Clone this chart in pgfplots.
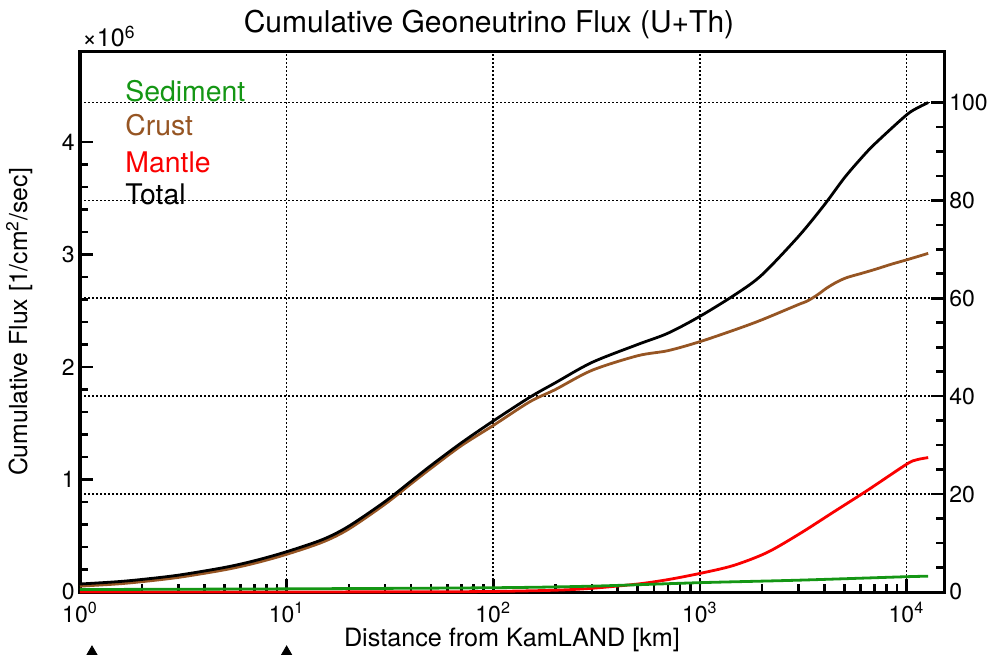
\documentclass[border=0pt]{standalone}
\usepackage{fontspec}
\setmainfont{TeX Gyre Heros}
\usepackage{pgfplots}
\pgfplotsset{compat=1.18}
\definecolor{sedgreen}{RGB}{20,150,20}
\definecolor{crustbrown}{RGB}{150,85,35}
\definecolor{mantlered}{RGB}{250,0,0}

\begin{document}
\begin{tikzpicture}
\pgfplotsset{
  every axis/.append style={
    scale only axis, width=432pt, height=270pt,
    xmode=log, xmin=1, xmax=15200,
    axis line style={line width=1.5pt},
    major tick length=6.5pt, minor tick length=4pt,
    every tick/.style={line width=1.3pt, black},
    grid style={black, line width=0.8pt, dash pattern=on 1pt off 1pt},
    tick label style={font=\fontsize{11.5}{13}\selectfont},
    /pgf/number format/assume math mode=true,
  }
}
% right axis (percent) with horizontal grid
\begin{axis}[
  ymin=0, ymax=110.3,
  xtick=\empty, minor xtick={},
  ytick={0,20,40,60,80,100}, minor y tick num=3,
  yticklabels={0,20,40,60,80,100},
  ytick pos=right, yticklabel pos=right,
  yticklabel style={inner xsep=0pt, xshift=2.5pt},
  ymajorgrids,
]
\end{axis}
% main axis
\begin{axis}[
  name=main,
  clip=false,
  ymin=0, ymax=4.8,
  ytick={0,1,2,3,4}, yticklabels={0,1,2,3,4},
  minor y tick num=4,
  ytick pos=left,
  yticklabel style={inner xsep=0pt, xshift=-2.5pt},
  xtick={1,10,100,1000,10000},
  xticklabels={10\textsuperscript{0},10\textsuperscript{1},10\textsuperscript{2},10\textsuperscript{3},10\textsuperscript{4}},
  xtick pos=bottom,
  xticklabel style={inner ysep=0pt, yshift=-5pt},
  xmajorgrids,
  title={Cumulative Geoneutrino Flux (U+Th)},
  every axis title/.style={font=\fontsize{15}{18}\selectfont, at={(axis description cs:0.4734,1.0352)}, anchor=base},
  xlabel={Distance from KamLAND [km]},
  xlabel style={font=\fontsize{12.6}{15}\selectfont, at={(axis description cs:0.5,-0.1)}, anchor=base},
  ylabel={Cumulative Flux [1/cm\textsuperscript{2}/sec]},
  ylabel style={font=\fontsize{12.4}{15}\selectfont, at={(axis description cs:-0.0613,0.5)}, anchor=base},
]
\addplot[crustbrown, line width=1.4pt, smooth] table {
x y
1 0.052
1.5 0.071
2 0.092
3 0.130
5 0.197
7 0.256
10 0.335
15 0.445
20 0.560
30 0.782
40 0.962
50 1.10
70 1.30
100 1.48
150 1.69
200 1.80
300 1.97
500 2.10
700 2.145
1000 2.225
1500 2.335
2000 2.42
3000 2.555
3300 2.585
3700 2.64
4100 2.70
4600 2.755
5150 2.795
6000 2.83
7000 2.866
8500 2.915
10000 2.952
12742 3.01
};
\addplot[mantlered, line width=1.4pt, smooth] table {
x y
1 0.0
10 0.0005
50 0.002
100 0.005
200 0.016
300 0.033
500 0.071
700 0.11
1000 0.165
1450 0.235
2110 0.35
3055 0.52
4430 0.71
6430 0.90
10000 1.135
11200 1.175
12742 1.195
};
\addplot[sedgreen, line width=1.4pt, smooth] table {
x y
1 0.022
10 0.028
100 0.038
300 0.052
1000 0.083
3000 0.105
10000 0.136
12742 0.14
};
\addplot[black, line width=1.4pt, smooth] table {
x y
1 0.071
1.5 0.091
2 0.112
3 0.150
5 0.218
7 0.278
10 0.358
15 0.468
20 0.585
30 0.805
40 0.985
50 1.125
70 1.325
100 1.52
150 1.73
200 1.86
300 2.04
500 2.20
700 2.30
1000 2.45
1500 2.65
2000 2.82
3000 3.16
4000 3.44
5000 3.68
6000 3.85
7000 3.98
10000 4.24
11500 4.31
12742 4.35
};
% small arrow marks at the bottom edge
\addplot[only marks, mark=triangle*, mark size=4pt, black] coordinates {(1.143,-0.551) (10,-0.551)};
% legend texts
\node[anchor=base west, inner sep=0pt, text=sedgreen, font=\fontsize{14.2}{17}\selectfont, xshift=22.5pt, yshift=-25pt] at (rel axis cs:0,1) {Sediment};
\node[anchor=base west, inner sep=0pt, text=crustbrown, font=\fontsize{14.2}{17}\selectfont, xshift=22.5pt, yshift=-42pt] at (rel axis cs:0,1) {Crust};
\node[anchor=base west, inner sep=0pt, text=mantlered, font=\fontsize{14.2}{17}\selectfont, xshift=22.5pt, yshift=-60pt] at (rel axis cs:0,1) {Mantle};
\node[anchor=base west, inner sep=0pt, text=black, font=\fontsize{14.2}{17}\selectfont, xshift=22.5pt, yshift=-76.5pt] at (rel axis cs:0,1) {Total};
% multiplier
\node[anchor=base west, inner sep=0pt, font=\fontsize{12.5}{14}\selectfont, xshift=1pt, yshift=2.5pt] at (rel axis cs:0,1) {×10\textsuperscript{6}};
\end{axis}
\pgfresetboundingbox
\path[use as bounding box] ([xshift=-40pt,yshift=-31pt]main.south west) rectangle ([xshift=26pt,yshift=26pt]main.north east);
\end{tikzpicture}
\end{document}
